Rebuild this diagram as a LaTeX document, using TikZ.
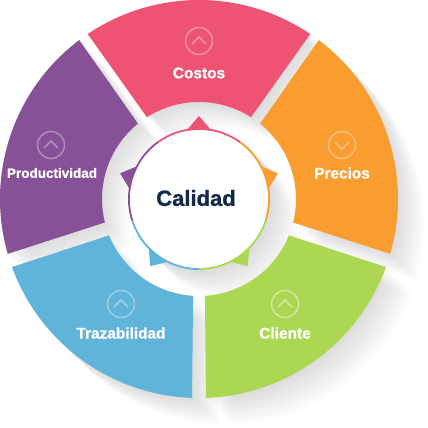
\documentclass[tikz,border=0pt]{standalone}
\usepackage{fontspec}
\setmainfont{Liberation Sans}[BoldFeatures={FakeBold=1}]
\definecolor{costos}{HTML}{EE5373}
\definecolor{precios}{HTML}{F99D31}
\definecolor{cliente}{HTML}{ABD753}
\definecolor{traza}{HTML}{60B4D9}
\definecolor{produc}{HTML}{865196}
\definecolor{titulo}{HTML}{12294A}
\newcommand{\sectorpath}[4]{(#1:199) arc[start angle=#1,end angle=#2,radius=199] -- (#4:97) arc[start angle=#4,end angle=#3,radius=97] -- cycle}
\tikzset{
  seclabel/.style={text=white,font=\bfseries\fontsize{15.4}{15.4}\selectfont,inner sep=0pt},
  ringicon/.style={line width=1.5pt,fill=none},
}
\begin{document}
\begin{tikzpicture}[x=1pt,y=1pt]
\useasboundingbox (-199,-229) rectangle (229,199);

% shadows first, they stay under every sector
\foreach \i in {1,...,34}{
  \begin{scope}[shift={(0.8*\i,-0.8*\i)},fill=black,fill opacity=0.0045]
  \fill \sectorpath{124}{56}{122.5}{57.5};
  \fill \sectorpath{53}{-16}{51}{-14};
  \fill \sectorpath{-20}{-88}{-22}{-86.5};
  \fill \sectorpath{-92}{-160}{-93.5}{-158};
  \fill \sectorpath{-164}{-233}{-166}{-231};
  \fill (0,0) circle (72);
  \end{scope}
}

% sectors
\fill[costos] \sectorpath{124}{56}{122.5}{57.5};
\fill[precios] \sectorpath{53}{-16}{51}{-14};
\fill[cliente] \sectorpath{-20}{-88}{-22}{-86.5};
\fill[traza] \sectorpath{-92}{-160}{-93.5}{-158};
\fill[produc] \sectorpath{-164}{-233}{-166}{-231};

% centre: small points and coloured ring
\foreach \ang/\col/\from in {90/costos/126,18/precios/54,-54/cliente/-18,-126/traza/-90,-198/produc/-162}{
  \fill[\col] (\ang:83) -- (\ang+12:68) -- (\ang-12:68) -- cycle;
  \draw[\col,line width=2pt] (\from:70) arc[start angle=\from,delta angle=-72,radius=70];
}
\fill[white] (0,0) circle (69);
\node[inner sep=0pt,text=titulo,font=\bfseries\fontsize{22}{22}\selectfont] (calidad) at (-3,1) {Calidad};

% icons
\draw[ringicon,costos!65!white] (0,158) circle (13.5);
\draw[ringicon,costos!65!white] (-7,155) -- (0,162) -- (7,155);
\draw[ringicon,precios!65!white] (143,54) circle (13.5);
\draw[ringicon,precios!65!white] (136,57) -- (143,50) -- (150,57);
\draw[ringicon,cliente!55!white] (86,-105) circle (13.5);
\draw[ringicon,cliente!55!white] (79,-108) -- (86,-101) -- (93,-108);
\draw[ringicon,traza!65!white] (-78,-105) circle (13.5);
\draw[ringicon,traza!65!white] (-85,-108) -- (-78,-101) -- (-71,-108);
\draw[ringicon,produc!65!white] (-148,54) circle (13.5);
\draw[ringicon,produc!65!white] (-155,51) -- (-148,58) -- (-141,51);

% labels
\node[seclabel] (costos) at (0,126) {Costos};
\node[seclabel] (precios) at (143,26) {Precios};
\node[seclabel] (cliente) at (86,-134) {Cliente};
\node[seclabel] (traza) at (-78,-134) {Trazabilidad};
\node[seclabel,font=\bfseries\fontsize{13.5}{13.5}\selectfont] (produc) at (-147,26) {Productividad};

\end{tikzpicture}
\end{document}
